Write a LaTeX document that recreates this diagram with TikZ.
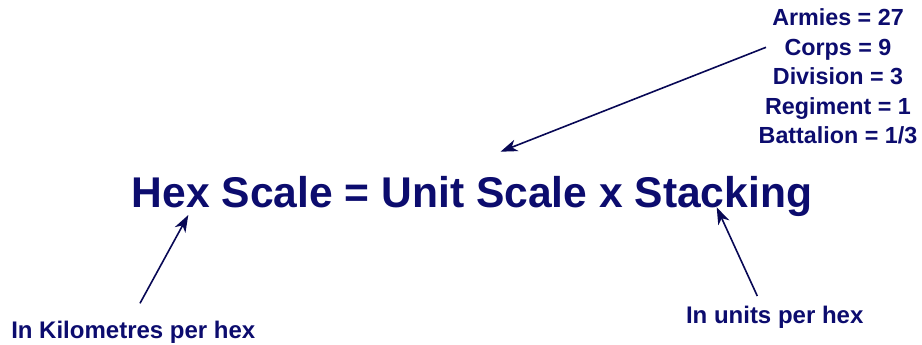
\documentclass[tikz,border=0pt]{standalone}
\usepackage{fontspec}
\setmainfont{Liberation Sans}
\newfontfamily\bigfont[FakeStretch=0.99]{Liberation Sans}
\usetikzlibrary{arrows.meta}
\definecolor{navy}{RGB}{12,12,110}
\definecolor{arrowc}{RGB}{8,8,85}
\tikzset{
  lbl/.style={inner sep=0pt, anchor=base, text=navy, font=\bfseries\fontsize{23.3}{23.3}\selectfont},
  lblb/.style={inner sep=0pt, anchor=base, text=navy, font=\bfseries\fontsize{24}{24}\selectfont},
  big/.style={inner sep=0pt, anchor=base, text=navy, font=\bigfont\bfseries\fontsize{43}{43}\selectfont},
  arr/.style={draw=arrowc, line width=1.6pt, -{Stealth[length=17pt,width=12pt,inset=5pt]}}
}
\begin{document}
\begin{tikzpicture}[x=1pt,y=-1pt]
\useasboundingbox (0,0) rectangle (922,345);
\node[big] (eq) at (472,207) {Hex Scale = Unit Scale x Stacking};
\node[lbl] (l1) at (838,26) {Armies = 27};
\node[lbl] (l2) at (838,55.3) {Corps = 9};
\node[lbl] (l3) at (838,84.6) {Division = 3};
\node[lbl] (l4) at (838,114) {Regiment = 1};
\node[lbl] (l5) at (838,143.3) {Battalion = 1/3};
\node[lblb] (km) at (133.3,338) {In Kilometres per hex};
\node[lblb] (un) at (774.7,323) {In units per hex};
\coordinate (t1) at (766,47.3);
\coordinate (h1) at (500.5,151.7);
\coordinate (t2) at (140,303.3);
\coordinate (h2) at (188.3,215);
\coordinate (t3) at (757.3,296);
\coordinate (h3) at (716.7,207.3);
\draw[arr] (t1) -- (h1);
\draw[arr] (t2) -- (h2);
\draw[arr] (t3) -- (h3);
\end{tikzpicture}
\end{document}
